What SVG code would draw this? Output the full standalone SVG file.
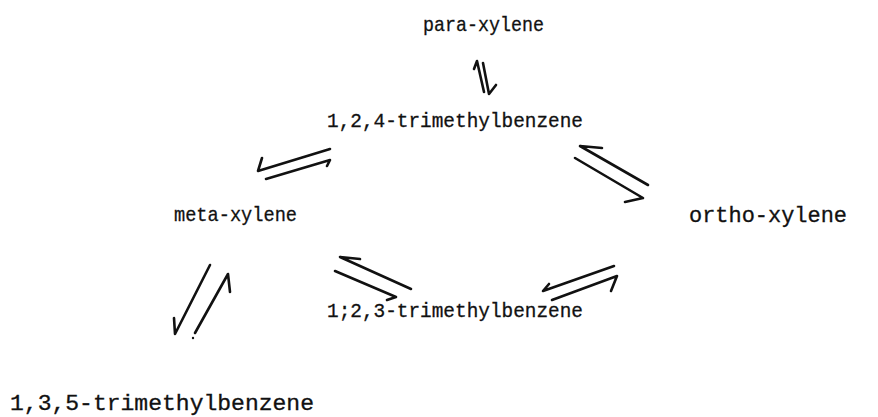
<svg xmlns="http://www.w3.org/2000/svg" width="878" height="417" viewBox="0 0 878 417">
<style>
text{font-family:"Liberation Mono","DejaVu Sans Mono",monospace;fill:#111;stroke:#111;stroke-width:0.3;font-size:21px}
.big{font-size:21.5px}
.c path{fill:none;stroke:#111;stroke-width:2.6;stroke-linecap:round;stroke-linejoin:round}
.c circle{fill:#111}
</style>
<rect width="878" height="417" fill="#fff"/>
<g id="para-xylene"><text x="423" y="31" textLength="121" lengthAdjust="spacingAndGlyphs">para-xylene</text></g>
<g id="tmb124"><text x="327" y="127" textLength="256" lengthAdjust="spacingAndGlyphs">1,2,4-trimethylbenzene</text></g>
<g id="meta-xylene"><text x="174" y="221" textLength="123" lengthAdjust="spacingAndGlyphs">meta-xylene</text></g>
<g id="ortho-xylene"><text class="big" x="689" y="222" textLength="158" lengthAdjust="spacingAndGlyphs">ortho-xylene</text></g>
<g id="tmb123"><text x="327" y="317" textLength="256" lengthAdjust="spacingAndGlyphs">1;2,3-trimethylbenzene</text></g>
<g id="tmb135"><text class="big" x="10" y="410" textLength="304" lengthAdjust="spacingAndGlyphs">1,3,5-trimethylbenzene</text></g>
<g id="connectors" class="c">
<path d="M474,69 L477,61 L484,92"/>
<path d="M483,63 L489,94 L496,85"/>
<path d="M262,158 L258,171 L330,149"/>
<path d="M266,179 L330,160 L327,166"/>
<path d="M602,148 L580,146 L648,185"/>
<path d="M575,158 L643,198 L625,202"/>
<path d="M360,259 L340,257 L411,289"/>
<path d="M335,271 L396,297 L387,300"/>
<path d="M549,284 L543,291 L614,266"/>
<path d="M552,300 L617,276 L611,291"/>
<path d="M174,318 L175,334 L210,265"/>
<path d="M195,333 L228,274 L230,292"/>
<circle cx="193" cy="338" r="1.2"/>
</g>
</svg>
